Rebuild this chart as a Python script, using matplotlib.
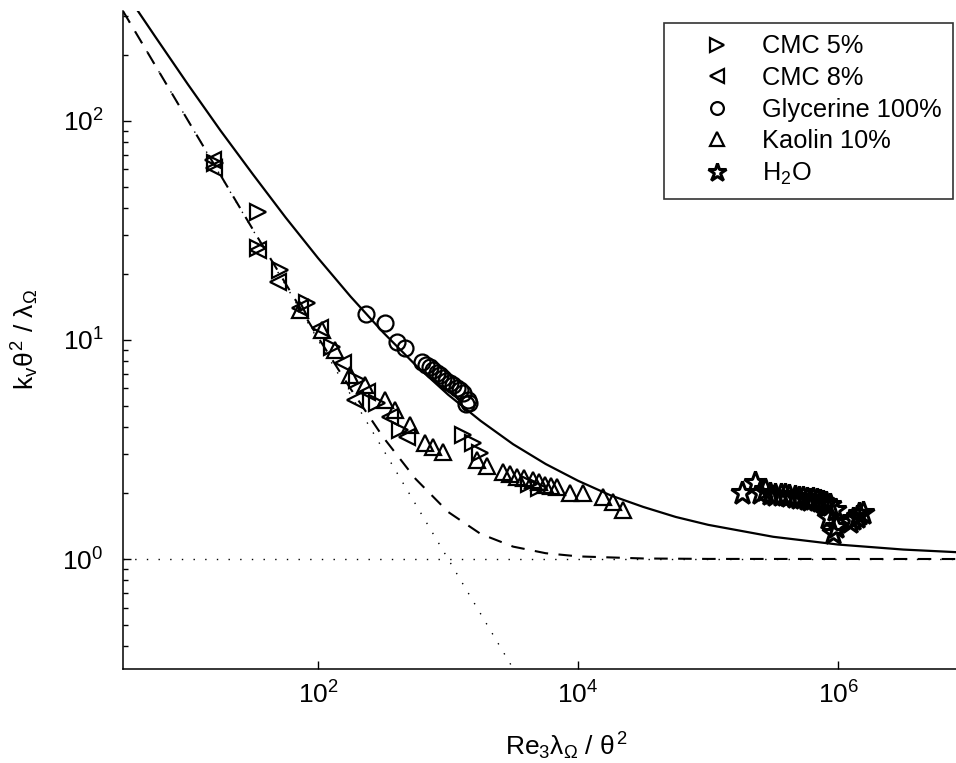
import matplotlib
matplotlib.use('Agg')
import matplotlib.pyplot as plt
from matplotlib.ticker import NullLocator, FixedLocator, LogLocator

plt.rcParams.update({
    'font.family': 'Liberation Sans',
    'mathtext.fontset': 'custom',
    'mathtext.rm': 'Liberation Sans',
    'mathtext.it': 'Liberation Sans',
    'mathtext.bf': 'Liberation Sans:bold',
    'axes.linewidth': 1.1,
})

cmc5_x = [16, 34.4, 34.4, 50.7, 82, 127, 198, 283, 425, 1297, 1550, 1754, 4200, 5000]
cmc5_y = [64.3, 38.4, 26.3, 20.9, 14.8, 9.29, 6.57, 5.16, 3.88, 3.68, 3.39, 3.05, 2.2, 2.1]

cmc8_x = [15.5, 15.8, 34.4, 49, 72, 103, 155, 191, 237, 355, 481]
cmc8_y = [66.4, 61.0, 25.8, 18.4, 14.0, 11.3, 7.85, 5.32, 5.79, 4.45, 3.61]

glyc_x = [232, 326, 403, 464, 628, 680, 723, 770, 819, 870, 910, 970, 1031,
          1100, 1166, 1230, 1297, 1368, 1418, 1450]
glyc_y = [13.1, 11.97, 9.8, 9.2, 7.93, 7.7, 7.53, 7.3, 7.07, 6.9, 6.70, 6.5, 6.36,
          6.2, 6.04, 5.9, 5.73, 5.10, 5.32, 5.15]

kaolin_x = [72, 107, 134, 175, 228, 326, 389, 507, 662, 762, 910, 1660, 1985,
            2640, 3000, 3380, 3800, 4490, 5000, 5550, 6200, 6860, 8630, 10900,
            15500, 18500, 22100]
kaolin_y = [13.7, 11.1, 9.0, 6.92, 6.23, 5.32, 4.79, 4.09, 3.39, 3.25, 3.08, 2.83, 2.66,
            2.50, 2.45, 2.37, 2.35, 2.30, 2.25, 2.18, 2.15, 2.13, 2.0, 2.0,
            1.92, 1.82, 1.67]

h2o_x = [1.82e5, 2.28e5, 2.5e5, 2.72e5, 3.0e5, 3.25e5, 3.6e5, 3.88e5, 4.2e5, 4.63e5,
         5.0e5, 5.33e5, 5.7e5, 6.04e5, 6.4e5, 6.84e5, 7.2e5, 7.61e5, 8.1e5, 8.61e5,
         9.41e5, 8.32e5, 9.08e5, 9.57e5, 1.23e6, 1.3e6, 1.39e6, 1.45e6, 1.54e6]
h2o_y = [2.0, 2.22, 2.0, 2.07, 1.98, 1.96, 1.95, 1.96, 1.93, 1.92,
         1.9, 1.90, 1.88, 1.86, 1.87, 1.86, 1.84, 1.82, 1.8, 1.76,
         1.67, 1.54, 1.31, 1.40, 1.48, 1.52, 1.56, 1.6, 1.62]

# --- model curves ---
solid_x = [3.162, 5.623, 10, 17.78, 31.62, 56.23, 100, 177.8, 316.2, 562.3, 1000,
           1778, 3162, 5623, 1e4, 1.778e4, 3.162e4, 5.623e4, 1e5, 3.162e5, 1e6,
           3.162e6, 1e7]
solid_y = [399.1, 240.8, 146.2, 90.1, 56.8, 36.2, 23.6, 15.76, 10.82, 7.67, 5.62,
           4.27, 3.34, 2.714, 2.274, 1.951, 1.729, 1.556, 1.432, 1.263, 1.164,
           1.1045, 1.068]

dashed_x = [3.162, 10, 31.62, 100, 177.8, 316.2, 562.3, 1000, 1778, 3162, 5623, 1e4, 3.162e4, 1e5, 1e7]
dashed_y = [316.3, 100.1, 31.8, 10.27, 5.98, 3.60, 2.32, 1.64, 1.302, 1.139, 1.063, 1.028, 1.0057, 1.0011, 1.0]

asym_h_x = [3.162, 1e7]
asym_h_y = [1.0, 1.0]
asym_d_x = [3.162, 3162]
asym_d_y = [316.2, 0.3162]

W, H = 956, 763
fig = plt.figure(figsize=(W / 100, H / 100), dpi=100)
ax = fig.add_axes([123 / W, 1 - 668.6 / H, (968.3 - 123) / W, (668.6 - 11.1) / H])

dot = (0, (1, 7.4))
ax.plot(asym_h_x, asym_h_y, color='k', lw=1.0, linestyle=dot)
ax.plot(asym_d_x, asym_d_y, color='k', lw=1.0, linestyle=dot)
ax.plot(dashed_x, dashed_y, color='k', lw=1.5, linestyle=(0, (6.5, 5)))
ax.plot(solid_x, solid_y, color='k', lw=1.6)

mk = dict(linestyle='none', color='k', mfc='none')
ax.plot(cmc5_x, cmc5_y, marker='>', ms=12, mew=1.6, label='CMC 5%', **mk)
ax.plot(cmc8_x, cmc8_y, marker='<', ms=12, mew=1.6, label='CMC 8%', **mk)
ax.plot(glyc_x, glyc_y, marker='o', ms=11.5, mew=1.6, label='Glycerine 100%', **mk)
ax.plot(kaolin_x, kaolin_y, marker='^', ms=12, mew=1.6, label='Kaolin 10%', **mk)
ax.plot(h2o_x, h2o_y, marker='*', ms=17, mew=2.2, label='H$_2$O', **mk)

ax.set_xscale('log')
ax.set_yscale('log')
ax.set_xlim(10 ** 0.5, 1e7)
ax.set_ylim(10 ** -0.5, 10 ** 2.5)

ax.xaxis.set_major_locator(FixedLocator([1e2, 1e4, 1e6]))
ax.xaxis.set_minor_locator(NullLocator())
ax.yaxis.set_major_locator(FixedLocator([1e0, 1e1, 1e2]))
ax.yaxis.set_minor_locator(LogLocator(base=10, subs=range(2, 10)))

ax.spines['top'].set_visible(False)
ax.spines['right'].set_visible(False)
ax.tick_params(which='both', direction='in', labelsize=19, width=1.0)
ax.tick_params(axis='x', which='major', length=6, pad=9)
ax.tick_params(axis='y', which='major', length=6, pad=14)
ax.tick_params(axis='y', which='minor', length=3.5)

ax.set_xlabel(r'Re$_3\lambda_\Omega$ / $\theta^2$', fontsize=19)
ax.set_ylabel(r'k$_v\theta^2$ / $\lambda_\Omega$', fontsize=19)
ax.xaxis.set_label_coords((566 - 123) / (968.3 - 123), -0.095)
ax.yaxis.set_label_coords(-0.097, 0.5)

leg = ax.legend(loc='upper right', bbox_to_anchor=(953 / W, 1 - 23 / H),
                bbox_transform=fig.transFigure, fontsize=18.3, frameon=True,
                fancybox=False, borderaxespad=0, handlelength=3.32,
                handletextpad=0.1, labelspacing=0.3, borderpad=0.45,
                markerscale=0.8)
leg.get_frame().set_edgecolor('k')
leg.get_frame().set_linewidth(1.2)

fig.savefig('out.png', dpi=100)
